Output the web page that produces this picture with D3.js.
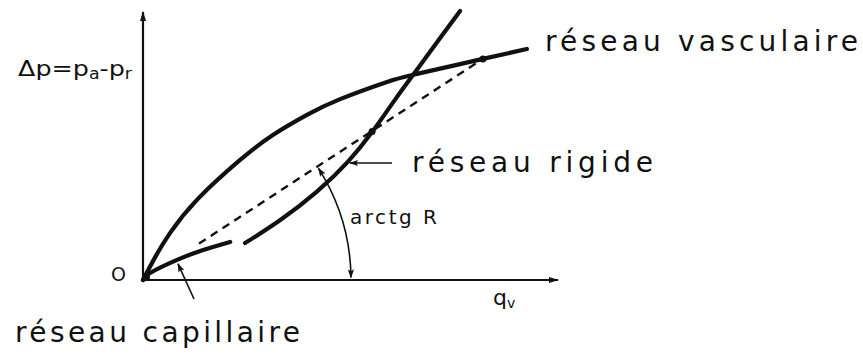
<!DOCTYPE html>
<html>
<head>
<meta charset="utf-8">
<script src="https://cdn.jsdelivr.net/npm/d3@7"></script>
<style>
  body { margin: 0; background: #fff; }
  text { font-family: "DejaVu Sans", sans-serif; fill: #111; }
</style>
</head>
<body>
<svg width="863" height="358"></svg>
<script>
// curves, q_v on x, delta p on y (arbitrary units 0-100)
const vascQ = [0, 3.1, 6.5, 13.0, 23.4, 31.3, 39.5, 47.5, 58.8, 66.0, 81.9, 92.5];
const vascP = [0, 9.0, 17.5, 29.9, 44.8, 54.1, 61.6, 67.5, 73.9, 76.9, 82.5, 86.2];

// capillary part (low flow) of the rigid network curve
const capQ = [0, 1.7, 8.2, 14.5, 21.0];
const capP = [0, 2.6, 7.5, 11.2, 14.2];

const rigidQ = [24.6, 33.0, 41.9, 49.4, 55.2, 60.7, 66.7, 71.6, 76.4];
const rigidP = [13.8, 22.3, 33.0, 44.2, 55.2, 67.2, 79.9, 90.3, 100.4];

// dashed chord from origin to the working point, slope = R
const chordQ = [13.5, 81.9];
const chordP = [13.6, 82.5];

const dotQ = [81.9, 55.2];
const dotP = [82.5, 55.4];

const labels = {
  vasc: "réseau vasculaire",
  rigid: "réseau rigide",
  cap: "réseau capillaire",
  angle: "arctg R"
};

const svg = d3.select("svg");

const x = d3.scaleLinear().domain([0, 100]).range([143, 558]);
const y = d3.scaleLinear().domain([0, 100]).range([280, 12]);

const defs = svg.append("defs");
defs.append("marker")
    .attr("id", "axisHead")
    .attr("viewBox", "0 0 10 10")
    .attr("refX", 9).attr("refY", 5)
    .attr("markerWidth", 10).attr("markerHeight", 10)
    .attr("markerUnits", "userSpaceOnUse")
    .attr("orient", "auto")
  .append("path")
    .attr("d", "M0,2 L10,5 L0,8 Z")
    .attr("fill", "#111");
defs.append("marker")
    .attr("id", "thinHead")
    .attr("viewBox", "0 0 10 10")
    .attr("refX", 9).attr("refY", 5)
    .attr("markerWidth", 9).attr("markerHeight", 9)
    .attr("markerUnits", "userSpaceOnUse")
    .attr("orient", "auto-start-reverse")
  .append("path")
    .attr("d", "M0,1.5 L10,5 L0,8.5 L2,5 Z")
    .attr("fill", "#111");

// axes
svg.append("line")
    .attr("x1", x(0)).attr("y1", y(0) + 1)
    .attr("x2", x(0)).attr("y2", y(100))
    .attr("stroke", "#111").attr("stroke-width", 2.2)
    .attr("marker-end", "url(#axisHead)");
svg.append("line")
    .attr("x1", x(0) - 1).attr("y1", y(0))
    .attr("x2", x(100)).attr("y2", y(0))
    .attr("stroke", "#111").attr("stroke-width", 2.2)
    .attr("marker-end", "url(#axisHead)");

const line = d3.line()
    .x(d => x(d[0]))
    .y(d => y(d[1]))
    .curve(d3.curveNatural);

const curves = [
  {pts: d3.zip(vascQ, vascP), w: 4.2},
  {pts: d3.zip(capQ, capP), w: 4.2},
  {pts: d3.zip(rigidQ, rigidP), w: 4.2}
];

svg.append("g")
    .attr("fill", "none")
    .attr("stroke", "#111")
    .attr("stroke-linecap", "round")
  .selectAll("path")
  .data(curves)
  .join("path")
    .attr("stroke-width", d => d.w)
    .attr("d", d => line(d.pts));

svg.append("path")
    .attr("fill", "none")
    .attr("stroke", "#111")
    .attr("stroke-width", 2.4)
    .attr("stroke-dasharray", "8,6")
    .attr("d", d3.line().x(d => x(d[0])).y(d => y(d[1]))(d3.zip(chordQ, chordP)));

svg.append("g")
  .selectAll("circle")
  .data(d3.zip(dotQ, dotP))
  .join("circle")
    .attr("cx", d => x(d[0]))
    .attr("cy", d => y(d[1]))
    .attr("r", 3.5)
    .attr("fill", "#111");

// blob at the origin
svg.append("circle")
    .attr("cx", x(0) + 3).attr("cy", y(0) - 3)
    .attr("r", 4).attr("fill", "#111");

// angle arc arctg R
const cx = x(0), cy = y(0), r = 208;
const theta = Math.atan2(y(0) - y(chordP[1]), x(chordQ[1]) - x(0));
const arc = d3.path();
arc.moveTo(cx + r * Math.cos(0.012), cy - r * Math.sin(0.012));
arc.arc(cx, cy, r, -0.012, -theta + 0.01, true);
svg.append("path")
    .attr("d", arc.toString())
    .attr("fill", "none")
    .attr("stroke", "#111")
    .attr("stroke-width", 1.6)
    .attr("marker-start", "url(#thinHead)")
    .attr("marker-end", "url(#thinHead)");

// pointer arrows
svg.append("line")
    .attr("x1", 392).attr("y1", 163)
    .attr("x2", x(49.4) + 2).attr("y2", 163)
    .attr("stroke", "#111").attr("stroke-width", 1.6)
    .attr("marker-end", "url(#thinHead)");
svg.append("line")
    .attr("x1", 194).attr("y1", 299)
    .attr("x2", x(8.2) + 1).attr("y2", y(7.5) + 4)
    .attr("stroke", "#111").attr("stroke-width", 1.6)
    .attr("marker-end", "url(#thinHead)");

// texts
svg.append("text")
    .attr("x", 545).attr("y", 51)
    .attr("font-size", 28)
    .attr("textLength", 313).attr("lengthAdjust", "spacing")
    .text(labels.vasc);
svg.append("text")
    .attr("x", 412).attr("y", 172)
    .attr("font-size", 28)
    .attr("textLength", 241).attr("lengthAdjust", "spacing")
    .text(labels.rigid);
svg.append("text")
    .attr("x", 15).attr("y", 342)
    .attr("font-size", 28)
    .attr("textLength", 285).attr("lengthAdjust", "spacing")
    .text(labels.cap);
svg.append("text")
    .attr("x", 350).attr("y", 224)
    .attr("font-size", 20)
    .attr("textLength", 87).attr("lengthAdjust", "spacing")
    .text(labels.angle);

svg.append("text")
    .attr("x", 111).attr("y", 281)
    .attr("font-size", 19)
    .text("O");

const dp = svg.append("text")
    .attr("x", 18).attr("y", 76)
    .attr("font-size", 22)
    .attr("textLength", 114).attr("lengthAdjust", "spacingAndGlyphs");
dp.append("tspan").text("Δp=p");
dp.append("tspan").attr("font-size", 15).attr("dy", 3).text("a");
dp.append("tspan").attr("dy", -3).text("-p");
dp.append("tspan").attr("font-size", 15).attr("dy", 3).text("r");

const qv = svg.append("text")
    .attr("x", 493).attr("y", 305)
    .attr("font-size", 22);
qv.append("tspan").text("q");
qv.append("tspan").attr("font-size", 14).attr("dy", 3).text("v");
</script>
</body>
</html>
